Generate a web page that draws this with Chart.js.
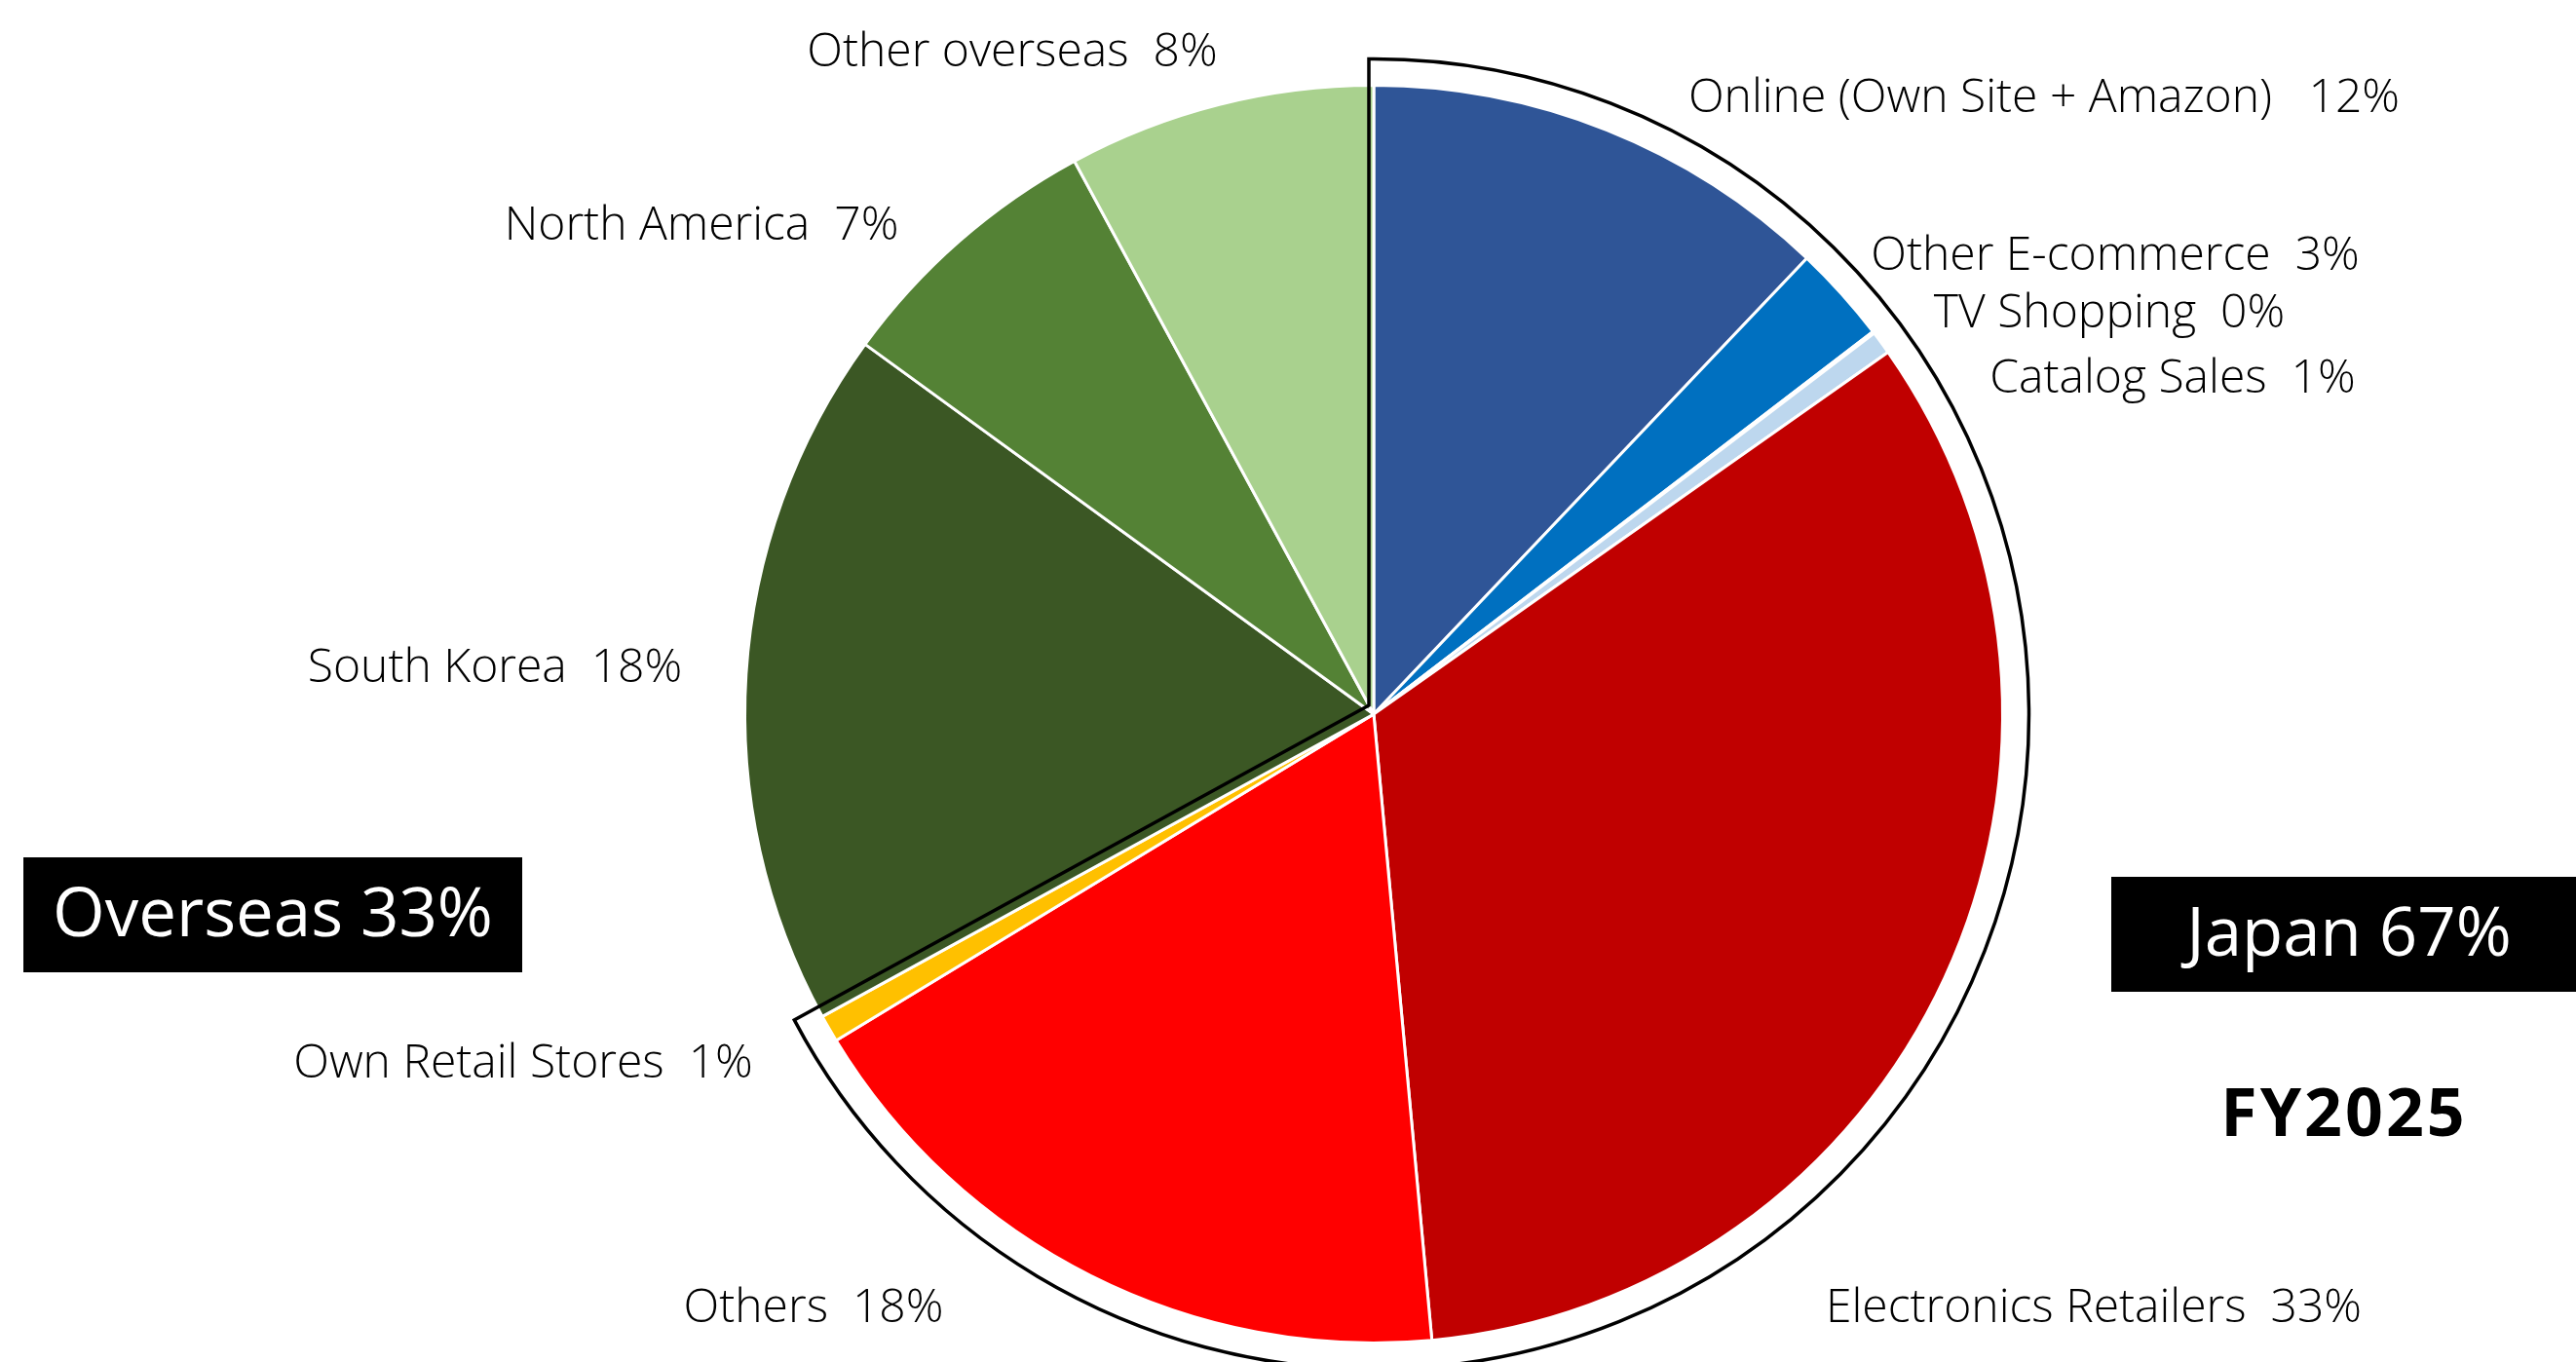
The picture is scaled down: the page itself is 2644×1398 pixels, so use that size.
<!DOCTYPE html>
<html>
<head>
<meta charset="utf-8">
<script src="https://cdn.jsdelivr.net/npm/chart.js@4.4.1/dist/chart.umd.min.js"></script>
<style>
  html, body { margin: 0; padding: 0; background: #ffffff; }
  #wrap { position: relative; width: 2644px; height: 1398px; }
</style>
</head>
<body>
<div id="wrap"><canvas id="sales"></canvas></div>
<script>
// sales channel breakdown, FY2025 (share of sales, %)
var channels = ['Online (Own Site + Amazon)', 'Other E-commerce', 'TV Shopping', 'Catalog Sales',
  'Electronics Retailers', 'Others', 'Own Retail Stores', 'South Korea', 'North America', 'Other overseas'];
var shares = [12.1, 2.5, 0.05, 0.6, 33.3, 17.8, 0.7, 18.0, 7.1, 7.9];
var sliceColors = ['#2F5597', '#0070C0', '#9DC3E6', '#BDD7EE', '#C00000', '#FF0000', '#FFC000',
  '#3B5724', '#548235', '#A9D18E'];
var gapText = ['   ', '  ', '  ', '  ', '  ', '  ', '  ', '  ', '  ', '  '];
// label text centres (page px)
var labelX = [2098, 2171, 2165, 2230, 2149, 835, 537, 508, 720, 1039];
var labelY = [101, 263, 322, 389, 1343, 1343, 1092, 686, 232, 54];
var japanCount = 7; // first 7 channels are domestic
var regionNames = ['Overseas 33%', 'Japan 67%'];
var yearLabel = 'FY2025';

var labelFont = '300 48px "Open Sans", "Noto Sans", sans-serif';

var decorations = {
  id: 'decorations',
  afterDatasetsDraw: function(chart) {
    var ctx = chart.ctx;
    var arcs = chart.getDatasetMeta(0).data;
    var first = arcs[0];
    var last = arcs[japanCount - 1];
    var cx = first.x, cy = first.y;
    var R = first.outerRadius + 27;

    // outline around the Japan share
    ctx.save();
    ctx.strokeStyle = '#000000';
    ctx.lineWidth = 3.5;
    ctx.lineJoin = 'miter';
    var ax = cx - 5, ay = cy - 9;
    var a0 = first.startAngle - Math.asin(5 / R);
    var a1 = last.endAngle + 0.016;
    ctx.beginPath();
    ctx.moveTo(ax, ay);
    ctx.lineTo(cx + R * Math.cos(a0), cy + R * Math.sin(a0));
    ctx.arc(cx, cy, R, a0, a1);
    ctx.closePath();
    ctx.stroke();
    ctx.restore();

    // slice labels
    ctx.save();
    ctx.fillStyle = '#000000';
    ctx.font = labelFont;
    ctx.textAlign = 'center';
    ctx.textBaseline = 'middle';
    channels.forEach(function(name, i) {
      ctx.fillText(name + gapText[i] + Math.round(shares[i]) + '%', labelX[i], labelY[i]);
    });

    // region boxes
    ctx.fillStyle = '#000000';
    ctx.fillRect(24, 880, 512, 118);
    ctx.fillRect(2167, 900, 477, 118);
    ctx.fillStyle = '#ffffff';
    ctx.font = '400 69px "Open Sans", "Noto Sans", sans-serif';
    ctx.fillText(regionNames[0], 280, 941);
    ctx.fillText(regionNames[1], 2411, 961);

    ctx.fillStyle = '#000000';
    ctx.font = '700 68px "Open Sans", "Noto Sans", sans-serif';
    ctx.letterSpacing = '3px';
    ctx.fillText(yearLabel, 2406, 1147);
    ctx.restore();
  }
};

var pieChart = new Chart(document.getElementById('sales'), {
  type: 'pie',
  data: {
    labels: channels,
    datasets: [{
      data: shares,
      backgroundColor: sliceColors,
      borderColor: '#ffffff',
      borderWidth: 3
    }]
  },
  options: {
    responsive: true,
    maintainAspectRatio: false,
    animation: false,
    layout: { padding: { top: 86, bottom: 18, left: 176, right: 0 } },
    plugins: {
      legend: { display: false },
      tooltip: { enabled: false },
      title: { display: false }
    }
  },
  plugins: [decorations]
});
</script>
</body>
</html>
